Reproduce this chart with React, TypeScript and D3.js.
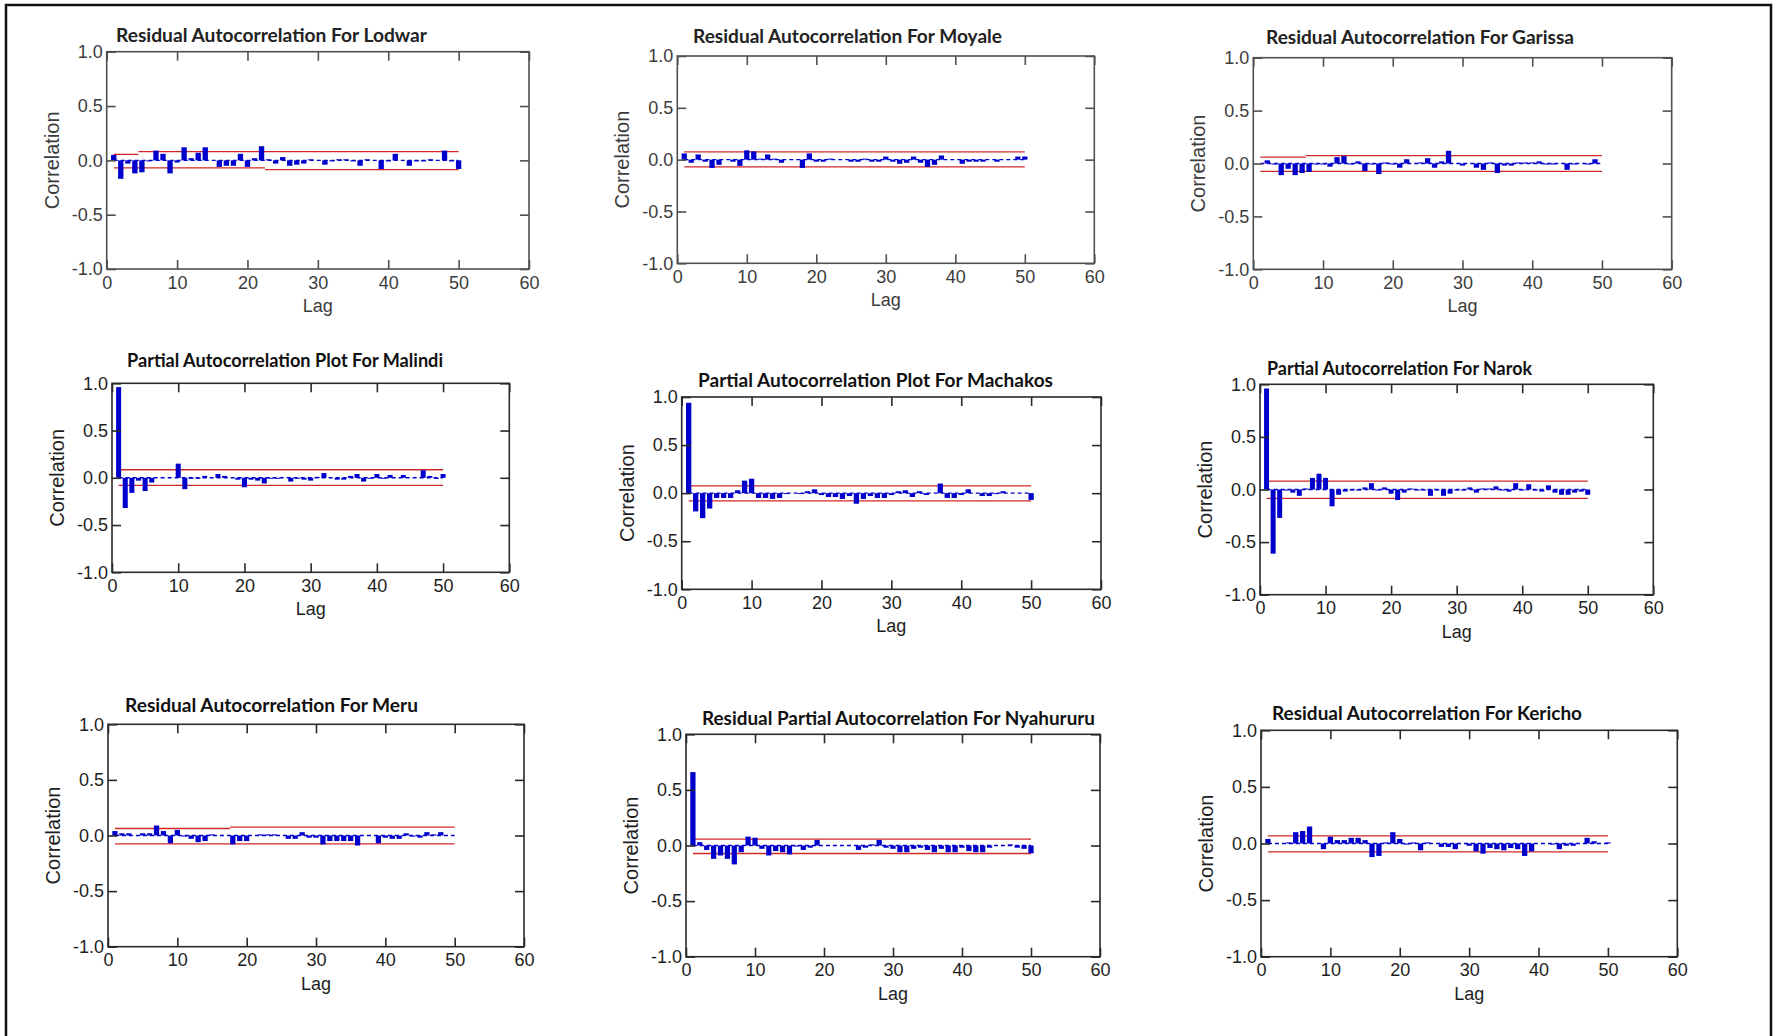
import React, { useEffect, useRef } from "react";
import * as d3 from "d3";

// lags 1..50 on every panel
const lags = d3.range(1, 51);
const xTicks = [0, 10, 20, 30, 40, 50, 60];
const yTicks = [-1, -0.5, 0, 0.5, 1];

const titles = [
  "Residual Autocorrelation For Lodwar",
  "Residual Autocorrelation For Moyale",
  "Residual Autocorrelation For Garissa",
  "Partial Autocorrelation Plot For Malindi",
  "Partial Autocorrelation Plot For Machakos",
  "Partial Autocorrelation For Narok",
  "Residual Autocorrelation For Meru",
  "Residual Partial Autocorrelation For Nyahururu",
  "Residual Autocorrelation For Kericho",
];

const lodwar = [
  0.05, -0.17, -0.03, -0.12, -0.11, -0.01, 0.09, 0.06, -0.12, -0.02,
  0.12, 0.02, 0.07, 0.12, 0.0, -0.06, -0.05, -0.05, 0.06, -0.06,
  0.02, 0.13, 0.01, -0.03, 0.03, -0.05, -0.04, -0.03, 0.01, 0.0,
  -0.04, -0.01, 0.01, 0.01, -0.01, -0.05, 0.01, 0.0, -0.08, -0.01,
  0.06, 0.0, -0.05, -0.01, -0.01, 0.01, 0.0, 0.09, -0.01, -0.08,
];
const moyale = [
  0.06, -0.03, 0.05, -0.02, -0.08, -0.05, 0.0, -0.02, -0.06, 0.09,
  0.08, 0.01, 0.05, 0.01, -0.03, 0.0, 0.0, -0.08, 0.06, -0.02,
  -0.02, 0.01, 0.0, 0.0, -0.02, -0.02, 0.01, -0.02, -0.02, 0.03,
  -0.02, -0.04, -0.03, 0.03, -0.03, -0.07, -0.05, 0.04, 0.0, 0.0,
  -0.04, -0.02, -0.02, -0.02, 0.0, -0.02, 0.0, 0.0, 0.03, 0.03,
];
const garissa = [
  0.0, 0.03, -0.01, -0.11, -0.05, -0.11, -0.09, -0.08, -0.01, -0.01,
  -0.03, 0.06, 0.07, -0.01, 0.02, -0.07, -0.01, -0.1, 0.01, -0.01,
  -0.04, 0.04, 0.0, 0.01, 0.05, -0.04, 0.02, 0.12, 0.0, -0.02,
  0.0, -0.04, -0.06, 0.01, -0.09, -0.02, -0.02, 0.01, 0.01, 0.01,
  0.02, -0.01, -0.01, 0.0, -0.06, -0.01, 0.0, -0.01, 0.04, 0.0,
];
const malindi = [
  0.96, -0.32, -0.16, -0.03, -0.14, -0.05, 0.0, 0.0, 0.0, 0.15,
  -0.12, -0.01, -0.01, 0.02, 0.0, 0.04, 0.02, 0.0, -0.02, -0.1,
  -0.02, -0.03, -0.06, -0.01, -0.01, 0.0, -0.04, -0.01, -0.02, -0.03,
  0.01, 0.05, 0.0, -0.02, -0.02, 0.02, 0.04, -0.04, -0.01, 0.04,
  -0.01, 0.03, 0.0, 0.03, 0.0, 0.0, 0.08, 0.02, -0.01, 0.04,
];
const machakos = [
  0.94, -0.19, -0.26, -0.16, -0.05, -0.05, -0.05, 0.03, 0.13, 0.15,
  -0.05, -0.05, -0.06, -0.05, -0.01, 0.0, -0.01, 0.02, 0.04, -0.02,
  -0.04, -0.04, -0.06, -0.03, -0.11, -0.06, -0.03, -0.05, -0.05, -0.02,
  0.02, 0.03, -0.04, 0.02, -0.02, 0.0, 0.1, -0.05, -0.05, -0.02,
  0.04, 0.0, -0.03, -0.03, -0.01, 0.02, 0.0, 0.0, 0.0, -0.07,
];
const narok = [
  0.96, -0.61, -0.27, -0.01, -0.03, -0.06, 0.01, 0.11, 0.15, 0.11,
  -0.16, -0.05, -0.02, -0.01, -0.01, 0.02, 0.06, -0.01, 0.02, -0.04,
  -0.1, -0.03, 0.01, -0.01, -0.01, -0.06, -0.01, -0.06, -0.04, -0.01,
  -0.01, 0.02, -0.03, 0.01, 0.01, 0.03, -0.01, -0.02, 0.06, -0.01,
  0.05, -0.01, -0.02, 0.04, -0.03, -0.05, -0.05, -0.03, -0.02, -0.05,
];
const meru = [
  0.04, 0.02, 0.02, 0.0, 0.02, 0.02, 0.09, 0.04, -0.07, 0.05,
  -0.01, -0.03, -0.06, -0.05, 0.01, 0.0, 0.0, -0.08, -0.05, -0.05,
  0.0, 0.01, 0.01, 0.01, 0.0, -0.03, -0.03, 0.03, -0.02, -0.02,
  -0.08, -0.05, -0.05, -0.05, -0.05, -0.09, 0.0, 0.0, -0.07, -0.02,
  -0.03, -0.03, 0.02, -0.01, -0.02, 0.03, 0.01, 0.03, 0.0, 0.0,
];
const nyahururu = [
  0.66, 0.03, -0.04, -0.12, -0.09, -0.12, -0.17, -0.06, 0.08, 0.07,
  -0.03, -0.09, -0.05, -0.06, -0.08, -0.01, -0.04, -0.02, 0.05, 0.0,
  0.0, 0.0, 0.0, 0.0, -0.04, -0.02, 0.01, 0.05, -0.02, -0.03,
  -0.06, -0.06, -0.03, -0.02, -0.04, -0.06, -0.03, -0.06, -0.06, -0.02,
  -0.05, -0.06, -0.06, -0.02, 0.0, 0.0, 0.01, -0.02, -0.03, -0.07,
];
const kericho = [
  0.04, 0.0, 0.0, 0.01, 0.1, 0.11, 0.15, 0.0, -0.05, 0.06,
  0.03, 0.03, 0.05, 0.05, 0.03, -0.12, -0.11, 0.01, 0.1, 0.04,
  -0.01, 0.01, -0.06, 0.01, 0.0, -0.03, -0.03, -0.05, 0.0, -0.02,
  -0.07, -0.09, -0.04, -0.05, -0.06, -0.04, -0.05, -0.11, -0.07, 0.0,
  0.0, -0.01, -0.05, -0.02, -0.02, 0.0, 0.05, 0.02, 0.0, 0.01,
];

// confidence limits as [fromLag, toLag, value]
const lodwarUpper = [[1, 4.5, 0.055], [4.5, 50, 0.08]];
const lodwarLower = [[1, 22.5, -0.07], [22.5, 50, -0.086]];
const moyaleUpper = [[1, 50, 0.075]];
const moyaleLower = [[1, 50, -0.07]];
const garissaUpper = [[1, 7.5, 0.06], [7.5, 50, 0.075]];
const garissaLower = [[1, 50, -0.075]];
const malindiUpper = [[1.3, 50, 0.085]];
const malindiLower = [[1, 50, -0.08]];
const machakosUpper = [[1.2, 50, 0.076]];
const machakosLower = [[1, 50, -0.08]];
const narokUpper = [[1, 50, 0.08]];
const narokLower = [[1, 50, -0.085]];
const meruUpper = [[1, 17.6, 0.063], [17.6, 50, 0.075]];
const meruLower = [[1, 50, -0.075]];
const nyahururuUpper = [[1.3, 50, 0.057]];
const nyahururuLower = [[1, 50, -0.072]];
const kerichoUpper = [[1, 50, 0.068]];
const kerichoLower = [[1, 50, -0.074]];

const values = [lodwar, moyale, garissa, malindi, machakos, narok, meru, nyahururu, kericho];
const uppers = [lodwarUpper, moyaleUpper, garissaUpper, malindiUpper, machakosUpper, narokUpper, meruUpper, nyahururuUpper, kerichoUpper];
const lowers = [lodwarLower, moyaleLower, garissaLower, malindiLower, machakosLower, narokLower, meruLower, nyahururuLower, kerichoLower];

// where each plot sits on the page
const layout = [
  { l: 106.7, t: 51.7, r: 529, b: 269, tx: 116, ty: 42, tw: 311, row: 0 },
  { l: 677.3, t: 56, r: 1094.3, b: 263.3, tx: 693, ty: 43, tw: 309, row: 0 },
  { l: 1253.3, t: 57.7, r: 1671.7, b: 269.3, tx: 1266, ty: 44, tw: 308, row: 0 },
  { l: 112, t: 383.3, r: 509.3, b: 572.3, tx: 127, ty: 367, tw: 316, row: 1 },
  { l: 681.7, t: 397, r: 1101, b: 589.3, tx: 698, ty: 387, tw: 355, row: 1 },
  { l: 1260, t: 384.3, r: 1653.3, b: 594.7, tx: 1267, ty: 375, tw: 265, row: 1 },
  { l: 108, t: 724.3, r: 524, b: 946.7, tx: 125, ty: 712, tw: 293, row: 2 },
  { l: 686, t: 734.3, r: 1100, b: 956.7, tx: 702, ty: 725, tw: 393, row: 2 },
  { l: 1261, t: 730.3, r: 1677.3, b: 956.7, tx: 1272, ty: 720, tw: 310, row: 2 },
];

const FONT = "'Liberation Sans', Arial, sans-serif";
const TITLE_FONT = "Lato, 'Open Sans', sans-serif";
const BLUE = "#0000cc";
const RED = "#d02828";

const drawPanel = (svg, i) => {
  const p = layout[i];
  const data = values[i];
  const textColor = p.row === 0 ? "#3c3c3c" : "#1e1e1e";
  const frameColor = p.row === 0 ? "#505050" : "#2a2a2a";

  const x = d3.scaleLinear().domain([0, 60]).range([p.l, p.r]);
  const y = d3.scaleLinear().domain([-1, 1]).range([p.b, p.t]);
  const bw = (x(1) - x(0)) * 0.76;

  const g = svg.append("g");

  // confidence limits
  [...uppers[i], ...lowers[i]].forEach(([a, b, v]) => {
    g.append("line")
      .attr("x1", x(a))
      .attr("x2", x(b))
      .attr("y1", y(v))
      .attr("y2", y(v))
      .attr("stroke", RED)
      .attr("stroke-width", 1.3);
  });

  // zero line
  g.append("line")
    .attr("x1", x(1))
    .attr("x2", x(50))
    .attr("y1", y(0))
    .attr("y2", y(0))
    .attr("stroke", BLUE)
    .attr("stroke-width", 1.4)
    .attr("stroke-dasharray", "4 3");

  // bars
  g.selectAll("rect.bar")
    .data(lags)
    .enter()
    .append("rect")
    .attr("class", "bar")
    .attr("x", (d) => x(d) - bw / 2)
    .attr("y", (d, k) => y(Math.max(0, data[k])))
    .attr("width", bw)
    .attr("height", (d, k) => Math.abs(y(data[k]) - y(0)))
    .attr("fill", BLUE);

  // frame
  g.append("rect")
    .attr("x", p.l)
    .attr("y", p.t)
    .attr("width", p.r - p.l)
    .attr("height", p.b - p.t)
    .attr("fill", "none")
    .attr("stroke", frameColor)
    .attr("stroke-width", 1.6);

  const styleAxis = (ax) => {
    ax.select(".domain").remove();
    ax.attr("font-family", FONT).attr("font-size", 18);
    ax.selectAll("line").attr("stroke", frameColor).attr("stroke-width", 1.6);
    ax.selectAll("text").attr("fill", textColor);
  };

  g.append("g")
    .attr("transform", `translate(0,${p.b})`)
    .call(d3.axisBottom(x).tickValues(xTicks).tickSize(-9).tickPadding(7).tickFormat(d3.format("d")))
    .call(styleAxis);

  g.append("g")
    .attr("transform", `translate(0,${p.t})`)
    .call(d3.axisTop(x).tickValues(xTicks).tickSize(-9).tickFormat(() => ""))
    .call(styleAxis);

  g.append("g")
    .attr("transform", `translate(${p.l},0)`)
    .call(d3.axisLeft(y).tickValues(yTicks).tickSize(-9).tickPadding(4).tickFormat((d) => (+d).toFixed(1)))
    .call(styleAxis);

  g.append("g")
    .attr("transform", `translate(${p.r},0)`)
    .call(d3.axisRight(y).tickValues(yTicks).tickSize(-9).tickFormat(() => ""))
    .call(styleAxis);

  // axis titles
  g.append("text")
    .attr("transform", `translate(${p.l - 48},${(p.t + p.b) / 2}) rotate(-90)`)
    .attr("text-anchor", "middle")
    .attr("font-family", FONT)
    .attr("font-size", 20)
    .attr("fill", textColor)
    .text("Correlation");

  g.append("text")
    .attr("x", x(30))
    .attr("y", p.b + 43)
    .attr("text-anchor", "middle")
    .attr("font-family", FONT)
    .attr("font-size", 18)
    .attr("fill", textColor)
    .text("Lag");

  // plot title
  g.append("text")
    .attr("x", p.tx)
    .attr("y", p.ty)
    .attr("font-family", TITLE_FONT)
    .attr("font-weight", 700)
    .attr("font-size", 19)
    .attr("fill", p.row === 0 ? "#222" : "#111")
    .attr("textLength", p.tw)
    .attr("lengthAdjust", "spacingAndGlyphs")
    .text(titles[i]);
};

const App = () => {
  const ref = useRef(null);

  useEffect(() => {
    const svg = d3.select(ref.current);
    svg.selectAll("*").remove();

    svg.append("rect").attr("width", 1774).attr("height", 1036).attr("fill", "#fff");

    // outer border of the figure (bottom edge is cut off)
    svg.append("rect")
      .attr("x", 6)
      .attr("y", 5)
      .attr("width", 1765)
      .attr("height", 1100)
      .attr("fill", "none")
      .attr("stroke", "#111")
      .attr("stroke-width", 2.5);

    titles.forEach((t, i) => drawPanel(svg, i));
  }, []);

  return (
    <svg
      ref={ref}
      width={1774}
      height={1036}
      style={{ position: "absolute", left: 0, top: 0, display: "block" }}
    />
  );
};

export default App;
